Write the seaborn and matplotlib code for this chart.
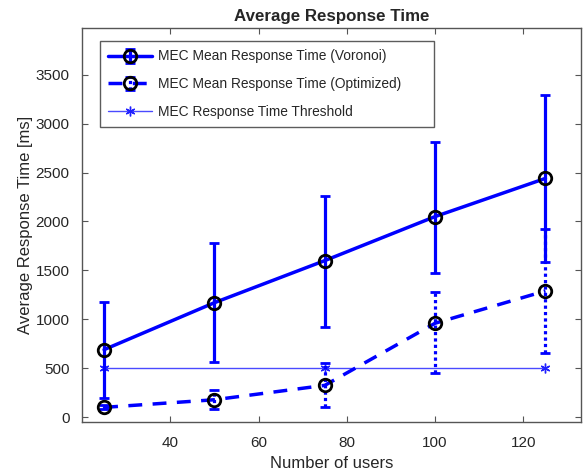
import numpy as np
import pandas as pd
import matplotlib
matplotlib.use("Agg")
import matplotlib.pyplot as plt
import seaborn as sns

# data
users = [25, 50, 75, 100, 125]
voronoi_mean = [690, 1170, 1600, 2050, 2440]
voronoi_low = [200, 560, 925, 1475, 1585]
voronoi_high = [1175, 1780, 2260, 2815, 3290]
optimized_mean = [100, 178, 325, 960, 1290]
optimized_low = [80, 80, 100, 448, 658]
optimized_high = [120, 276, 550, 1280, 1918]
threshold_users = [25, 75, 125]
threshold_value = [500, 500, 500]

sns.set_style("ticks")
plt.rcParams['font.family'] = ['Liberation Sans', 'DejaVu Sans']

fig = plt.figure(figsize=(5.86, 4.70), dpi=100)
ax = fig.add_axes([0.140, 0.102, 0.851, 0.838])

def err(mean, low, high):
    mean = np.array(mean)
    return [mean - np.array(low), np.array(high) - mean]

eb1 = ax.errorbar(users, voronoi_mean, yerr=err(voronoi_mean, voronoi_low, voronoi_high),
                  color="#0000ff", lw=2.5, elinewidth=2.3, capsize=3.5, capthick=2.3,
                  marker="o", ms=9, mfc="none", mec="black", mew=2,
                  label="MEC Mean Response Time (Voronoi)", zorder=3)
eb2 = ax.errorbar(users, optimized_mean, yerr=err(optimized_mean, optimized_low, optimized_high),
                  color="#0000ff", lw=2.5, ls=(0, (4, 3)), elinewidth=2.3, capsize=3.5, capthick=2.3,
                  marker="o", ms=9, mfc="none", mec="black", mew=2,
                  label="MEC Mean Response Time (Optimized)", zorder=3)
for c in eb2[2]:
    c.set_linestyle((0, (1, 1)))

thr = pd.DataFrame({"users": threshold_users, "value": threshold_value})
sns.lineplot(data=thr, x="users", y="value", ax=ax, color="#4a4aff", lw=1,
             marker=(6, 2, 0), ms=7, mec="#2020ff", mew=1,
             label="MEC Response Time Threshold")

ax.set_xlim(20, 133)
ax.set_ylim(-50, 3975)
ax.set_xticks([40, 60, 80, 100, 120])
ax.set_yticks(range(0, 3501, 500))
ax.tick_params(direction="in", length=4, top=True, right=True, labelsize=11,
               color="#555555", labelcolor="#262626")
ax.tick_params(axis="x", pad=10)
ax.tick_params(axis="y", pad=9)
for s in ax.spines.values():
    s.set_color("#555555")
    s.set_linewidth(1)

ax.set_xlabel("Number of users", fontsize=12, labelpad=4)
ax.set_ylabel("Average Response Time [ms]", fontsize=12, labelpad=2)
ax.set_title("Average Response Time", fontsize=12.2, fontweight="bold", pad=5)

handles, labels = ax.get_legend_handles_labels()
order = [labels.index(l) for l in ["MEC Mean Response Time (Voronoi)",
                                   "MEC Mean Response Time (Optimized)",
                                   "MEC Response Time Threshold"]]
leg = ax.legend([handles[i] for i in order], [labels[i] for i in order],
                loc="upper left", bbox_to_anchor=(0.036, 0.967, 0.669, 0), mode="expand",
                fontsize=9.9, frameon=True, fancybox=False, edgecolor="#333333",
                handlelength=3.2, handletextpad=0.4, borderpad=0.6,
                borderaxespad=0, labelspacing=1.0)
leg.get_frame().set_linewidth(1)

fig.savefig("out.png", dpi=100)
